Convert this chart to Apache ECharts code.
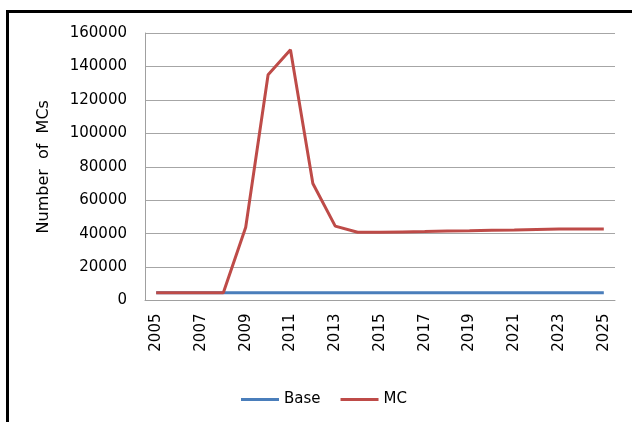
<!DOCTYPE html>
<html>
<head>
<meta charset="utf-8">
<script src="https://cdn.jsdelivr.net/npm/echarts@6/dist/echarts.min.js"></script>
<style>
  html, body { margin: 0; padding: 0; background: #fff; }
  #chart { width: 632px; height: 422px; }
</style>
</head>
<body>
<div id="chart"></div>
<script>
// years on the x axis
var years = ['2005', '2006', '2007', '2008', '2009', '2010', '2011', '2012', '2013', '2014', '2015',
             '2016', '2017', '2018', '2019', '2020', '2021', '2022', '2023', '2024', '2025'];

var baseValues = [4700, 4700, 4700, 4700, 4700, 4700, 4700, 4700, 4700, 4700, 4700,
                  4700, 4700, 4700, 4700, 4700, 4700, 4700, 4700, 4700, 4700];
var mcValues = [4700, 4700, 4700, 4700, 43800, 135000, 150000, 70000, 44500, 40800, 40800,
                41000, 41200, 41500, 41700, 42000, 42200, 42500, 42700, 42700, 42700];

var fontFamily = 'DejaVu Sans';

var myChart = echarts.init(document.getElementById('chart'));
myChart.setOption({
  animation: false,
  backgroundColor: '#fff',
  graphic: [
    // outer frame (only top and left edges are in view)
    { type: 'rect', shape: { x: 6, y: 10, width: 626, height: 3 }, style: { fill: '#000' } },
    { type: 'rect', shape: { x: 6, y: 10, width: 3, height: 412 }, style: { fill: '#000' } }
  ],
  grid: {
    left: 145,
    right: 17,
    top: 33,
    bottom: 121.5
  },
  legend: {
    left: 236,
    top: 387,
    itemWidth: 38,
    itemHeight: 3,
    itemGap: 20,
    icon: 'rect',
    textStyle: { fontFamily: fontFamily, fontSize: 15, color: '#000' },
    data: ['Base', 'MC']
  },
  xAxis: {
    type: 'category',
    data: years,
    boundaryGap: true,
    axisLine: { lineStyle: { color: '#a0a0a0', width: 1 } },
    axisTick: { show: false },
    axisLabel: {
      rotate: 90,
      interval: 1,
      margin: 13,
      fontFamily: fontFamily,
      fontSize: 15,
      color: '#000'
    }
  },
  yAxis: {
    type: 'value',
    min: 0,
    max: 160000,
    interval: 20000,
    name: 'Number  of  MCs',
    nameLocation: 'middle',
    nameGap: 93,
    nameRotate: 90,
    nameTextStyle: { fontFamily: fontFamily, fontSize: 16, color: '#000' },
    axisLine: { show: true, lineStyle: { color: '#a0a0a0', width: 1 } },
    axisTick: { show: false },
    axisLabel: {
      fontFamily: fontFamily,
      fontSize: 15,
      color: '#000',
      margin: 18,
      formatter: function (v) { return String(v); }
    },
    splitLine: { lineStyle: { color: '#a6a6a6', width: 1 } }
  },
  series: [
    {
      name: 'Base',
      type: 'line',
      data: baseValues,
      symbol: 'none',
      itemStyle: { color: '#4a7ebb' },
      lineStyle: { color: '#4a7ebb', width: 3 }
    },
    {
      name: 'MC',
      type: 'line',
      data: mcValues,
      symbol: 'none',
      itemStyle: { color: '#be4b48' },
      lineStyle: { color: '#be4b48', width: 3 }
    }
  ]
});

window.addEventListener('resize', function () {
  myChart.resize();
});
</script>
</body>
</html>
